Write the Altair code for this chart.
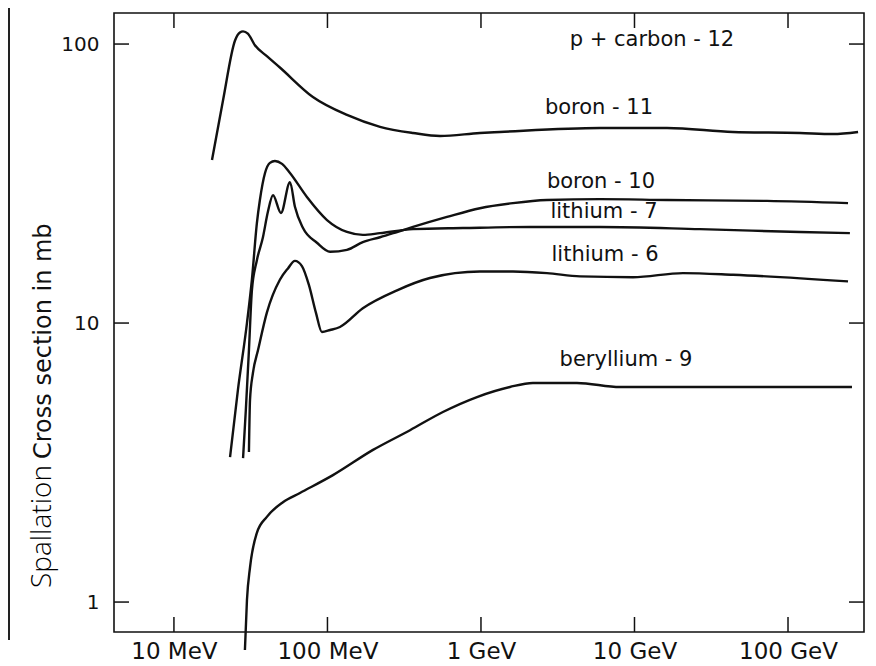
import altair as alt
import pandas as pd

# ---- data: energy (MeV) and cross section (mb) ----
b11_E = [17.7, 20.9, 25.0, 26.9, 28.2, 30.3, 33.7, 40.3, 49.0, 80.4, 134, 220, 361, 541, 985, 1330, 5960, 16300, 43800, 119700, 196000, 286000]
b11_s = [38.4, 63.0, 103, 110, 111, 109, 99, 90.5, 82.4, 64.6, 55.7, 50.5, 48.0, 46.8, 48.0, 48.4, 50.0, 50.0, 48.4, 48.0, 47.6, 48.4]

b10_E = [28.2, 29.4, 30.8, 32.2, 34.7, 38.0, 40.9, 44.2, 49.8, 57.0, 61.4, 69.3, 85.4, 104, 134, 170, 220, 284, 361, 601, 985, 1616, 2690, 5960, 16300, 72900, 246000]
b10_s = [3.28, 4.88, 8.0, 13.1, 16.8, 20.3, 25.0, 28.7, 24.8, 32.0, 26.1, 21.9, 19.4, 18.0, 18.3, 19.5, 20.3, 21.2, 22.1, 24.0, 25.8, 26.9, 27.6, 27.8, 27.6, 27.4, 26.9]

li7_E = [23.2, 26.1, 29.9, 32.2, 34.7, 36.3, 39.2, 42.2, 45.5, 50.6, 57.0, 73.5, 99.3, 134, 170, 220, 361, 763, 2085, 5960, 26700, 119700, 253000]
li7_s = [3.31, 5.75, 10.0, 14.3, 22.8, 27.6, 34.5, 37.5, 38.1, 37.2, 34.5, 28.3, 23.4, 21.2, 20.7, 21.0, 21.7, 21.9, 22.1, 22.1, 21.7, 21.2, 21.0]

li6_E = [30.8, 31.3, 32.7, 35.3, 40.3, 49.0, 55.3, 61.4, 68.2, 75.7, 84.1, 92.0, 104, 120.6, 170, 284, 465, 985, 1616, 2690, 4420, 9780, 20700, 43800, 246000]
li6_s = [3.45, 5.30, 6.62, 8.0, 10.9, 14.3, 15.7, 16.7, 16.0, 13.7, 10.9, 9.29, 9.44, 9.68, 11.3, 13.1, 14.5, 15.3, 15.3, 15.1, 14.7, 14.6, 15.1, 14.9, 14.1]

be9_E = [29.0, 29.9, 31.3, 34.7, 40.3, 51.3, 66.2, 108.6, 198, 345, 565, 942, 1545, 2180, 4220, 8050, 14650, 261000]
be9_s = [0.673, 1.017, 1.33, 1.77, 2.02, 2.28, 2.46, 2.85, 3.51, 4.13, 4.80, 5.43, 5.90, 6.10, 6.10, 5.90, 5.90, 5.90]

curve_names = ["boron - 11", "boron - 10", "lithium - 7", "lithium - 6", "beryllium - 9"]

# in-plot labels (text and anchor in data coordinates)
label_text = ["p + carbon - 12", "boron - 11", "boron - 10", "lithium - 7", "lithium - 6", "beryllium - 9"]
label_E = [13000, 5870, 6050, 6330, 6430, 8810]
label_s = [103.3, 59.0, 32.0, 25.0, 17.5, 7.36]

x_ticks = [10, 100, 1000, 10000, 100000]
x_tick_labels = ["10 MeV", "100 MeV", "1 GeV", "10 GeV", "100 GeV"]
y_ticks = [1, 10, 100]
y_tick_labels = ["1", "10", "100"]

x_domain = [4.07, 312600]
y_domain = [0.781, 129.2]

title_a = "Spallation"
title_b = "Cross section in mb"

# ---- build tables ----
rows = []
for name, E, s in zip(curve_names, [b11_E, b10_E, li7_E, li6_E, be9_E], [b11_s, b10_s, li7_s, li6_s, be9_s]):
    for i, (e, v) in enumerate(zip(E, s)):
        rows.append({"curve": name, "E": e, "sigma": v, "order": i})
df = pd.DataFrame(rows)
df_lab = pd.DataFrame({"label": label_text, "E": label_E, "sigma": label_s})
df_xt = pd.DataFrame({"v": x_ticks})
df_yt = pd.DataFrame({"v": y_ticks})

W, H = 750, 619
INK = "#111111"
FONT = "DejaVu Sans"


def label_expr(vals, labs):
    expr = "''"
    for v, l in reversed(list(zip(vals, labs))):
        expr = f"datum.value == {v} ? '{l}' : ({expr})"
    return expr


xscale = alt.Scale(type="log", domain=x_domain, nice=False)
yscale = alt.Scale(type="log", domain=y_domain, nice=False)

xaxis = alt.Axis(values=x_ticks, labelExpr=label_expr(x_ticks, x_tick_labels), title=None,
                 grid=False, ticks=False, tickSize=0, domain=False, labelFont=FONT,
                 labelFontSize=23, labelPadding=8, labelColor=INK, labelOverlap=False,
                 labelFlush=False)
yaxis = alt.Axis(values=y_ticks, labelExpr=label_expr(y_ticks, y_tick_labels), title=None,
                 grid=False, ticks=False, tickSize=0, domain=False, labelFont=FONT,
                 labelFontSize=20, labelPadding=15, labelColor=INK, labelOverlap=False,
                 labelFlush=False)

lines = alt.Chart(df).mark_line(color=INK, strokeWidth=2.4, interpolate="monotone").encode(
    x=alt.X("E:Q", scale=xscale, axis=xaxis),
    y=alt.Y("sigma:Q", scale=yscale, axis=yaxis),
    detail="curve:N",
    order="order:Q",
)

texts = alt.Chart(df_lab).mark_text(font=FONT, fontSize=21, align="center", baseline="middle", color=INK).encode(
    x=alt.X("E:Q", scale=xscale, axis=xaxis),
    y=alt.Y("sigma:Q", scale=yscale, axis=yaxis),
    text="label:N",
)

TL = 15
xt_bottom = alt.Chart(df_xt).mark_rule(color=INK, strokeWidth=1.5).encode(
    x=alt.X("v:Q", scale=xscale, axis=xaxis), y=alt.value(H), y2=alt.value(H - TL))
xt_top = alt.Chart(df_xt).mark_rule(color=INK, strokeWidth=1.5).encode(
    x=alt.X("v:Q", scale=xscale, axis=xaxis), y=alt.value(0), y2=alt.value(TL))
yt_left = alt.Chart(df_yt).mark_rule(color=INK, strokeWidth=1.5).encode(
    y=alt.Y("v:Q", scale=yscale, axis=yaxis), x=alt.value(0), x2=alt.value(TL))
yt_right = alt.Chart(df_yt).mark_rule(color=INK, strokeWidth=1.5).encode(
    y=alt.Y("v:Q", scale=yscale, axis=yaxis), x=alt.value(W), x2=alt.value(W - TL))

t1 = alt.Chart(pd.DataFrame({"t": [title_a]})).mark_text(
    angle=270, align="left", baseline="alphabetic", font="Open Sans", fontWeight=300,
    fontSize=28, color="#000000").encode(x=alt.value(-63), y=alt.value(575), text="t:N")
t2 = alt.Chart(pd.DataFrame({"t": [title_b]})).mark_text(
    angle=270, align="left", baseline="alphabetic", font=FONT,
    fontSize=24, color=INK).encode(x=alt.value(-63), y=alt.value(446), text="t:N")

edge = alt.Chart(pd.DataFrame({"t": [0]})).mark_rule(color="#222222", strokeWidth=2).encode(
    x=alt.value(-105), y=alt.value(-5), y2=alt.value(627))

chart = alt.layer(lines, texts, xt_bottom, xt_top, yt_left, yt_right, t1, t2, edge).properties(
    width=W, height=H,
    padding={"left": 106, "top": 5, "right": 4, "bottom": 30},
    autosize=alt.AutoSizeParams(type="none"),
    background="white",
).configure_view(stroke=INK, strokeWidth=1.6)

chart.save("out.html", embed_options={"renderer": "svg", "actions": False})
